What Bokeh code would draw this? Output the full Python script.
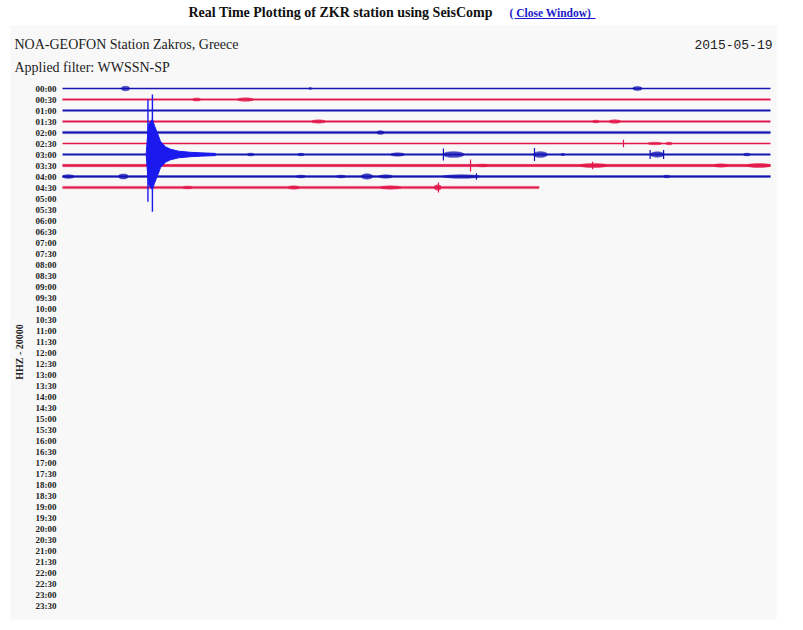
from bokeh.plotting import figure
from bokeh.models import Range1d, ColumnDataSource
from bokeh.core.properties import value
from bokeh.embed import file_html
from bokeh.resources import INLINE

# ---------------- data ----------------
row_labels = [f"{h:02d}:{m:02d}" for h in range(24) for m in (0, 30)]
trace_rows = [0, 1, 2, 3, 4, 5, 6, 7, 8, 9]            # 30-minute lines with data
trace_end_min = [30, 30, 30, 30, 30, 30, 30, 30, 30, 20.2]

# wave bursts: row, centre minute, duration (min), half amplitude (row units)
burst_row = [0, 0, 0, 1, 1, 3, 3, 3, 4, 5, 5,
             6, 6, 6, 6, 6, 6, 6, 6,
             7, 7, 7, 7,
             8, 8, 8, 8, 8, 8, 8, 8,
             9, 9, 9, 9]
burst_min = [2.67, 24.36, 10.5, 5.68, 7.75, 10.85, 22.6, 23.4, 13.47, 25.1, 25.7,
             7.97, 10.1, 14.2, 16.57, 20.25, 21.2, 25.2, 29.0,
             17.8, 22.5, 27.9, 29.5,
             0.25, 2.58, 12.9, 10.1, 11.8, 13.7, 16.9, 25.6,
             5.3, 9.8, 13.9, 15.9]
burst_dur = [0.34, 0.4, 0.12, 0.35, 0.7, 0.6, 0.3, 0.5, 0.3, 0.6, 0.3,
             0.3, 0.3, 0.6, 0.9, 0.6, 0.2, 0.6, 0.3,
             0.5, 1.2, 0.6, 1.0,
             0.5, 0.4, 0.5, 0.4, 0.4, 0.6, 1.6, 0.3,
             0.4, 0.5, 0.9, 0.3]
burst_amp = [0.2, 0.18, 0.1, 0.14, 0.16, 0.15, 0.12, 0.16, 0.17, 0.12, 0.12,
             0.12, 0.11, 0.15, 0.26, 0.26, 0.1, 0.24, 0.12,
             0.12, 0.18, 0.15, 0.18,
             0.17, 0.22, 0.24, 0.12, 0.12, 0.15, 0.16, 0.12,
             0.12, 0.15, 0.15, 0.24]

# single spikes: row, minute, half amplitude (row units)
spike_row = [5, 6, 6, 6, 6, 7, 7, 8, 9]
spike_min = [23.77, 16.14, 20.0, 24.9, 25.47, 17.29, 22.46, 17.54, 15.93]
spike_amp = [0.35, 0.55, 0.6, 0.4, 0.4, 0.55, 0.35, 0.3, 0.45]

# earthquake on the 03:00 line
quake_row = 6
quake_env_min = [3.55, 3.64, 3.73, 3.81, 3.90, 4.03, 4.15, 4.36, 4.58, 4.92, 5.42, 5.85, 6.48]
quake_env_amp = [0.15, 2.7, 3.0, 3.2, 2.6, 1.9, 1.2, 0.7, 0.48, 0.3, 0.2, 0.15, 0.1]
quake_spike_min = [3.62, 3.81]
quake_spike_up = [5.0, 5.45]
quake_spike_down = [4.3, 5.2]

# ---------------- layout helpers (page pixels -> data) ----------------
W, H = 787, 622
X0_PAGE, PX_PER_MIN = 62, 23.6
Y0_PAGE, PX_PER_ROW = 88, 11.0


def mx(page_x):
    return (page_x - X0_PAGE) / PX_PER_MIN


def ry(page_y):
    return (page_y - Y0_PAGE) / PX_PER_ROW


BLUE = "#1414b4"
QBLUE = "#1a1aee"
RED = "#e3174a"
SERIF = value("Liberation Serif")
MONO = value("Liberation Mono")

p = figure(width=W, height=H, output_backend="svg", toolbar_location=None,
           x_range=Range1d(mx(0), mx(W)), y_range=Range1d(ry(H), ry(0)),
           min_border=0, min_border_left=0, min_border_right=0,
           min_border_top=0, min_border_bottom=0)
p.axis.visible = False
p.grid.visible = False
p.outline_line_color = None
p.background_fill_color = "white"
p.border_fill_color = "white"

# grey panel
p.quad(left=[mx(10)], right=[mx(776)], top=[ry(25)], bottom=[ry(619)],
       fill_color="#f8f8f8", line_color=None)

# titles
p.text(x=[mx(188)], y=[ry(12)], text=["Real Time Plotting of ZKR station using SeisComp"],
       text_font=SERIF, text_font_style="bold", text_font_size="14px",
       text_baseline="middle", text_align="left", text_color="#111111")
p.text(x=[mx(509)], y=[ry(12.5)], text=["( Close Window)"],
       text_font=SERIF, text_font_style="bold", text_font_size="11.5px",
       text_baseline="middle", text_align="left", text_color="#1a1acc")
p.segment(x0=[mx(514)], y0=[ry(18)], x1=[mx(595)], y1=[ry(18)],
          line_color="#1a1acc", line_width=1)

p.text(x=[mx(14)], y=[ry(44)], text=["NOA-GEOFON Station Zakros, Greece"],
       text_font=SERIF, text_font_size="14px", text_baseline="middle", text_color="#222222")
p.text(x=[mx(14)], y=[ry(67)], text=["Applied filter: WWSSN-SP"],
       text_font=SERIF, text_font_size="14px", text_baseline="middle", text_color="#222222")
p.text(x=[mx(772)], y=[ry(44)], text=["2015-05-19"],
       text_font=MONO, text_font_size="13px", text_baseline="middle",
       text_align="right", text_color="#222222")

# row labels
p.text(x=[mx(56)] * len(row_labels), y=list(range(len(row_labels))), text=row_labels,
       text_font=SERIF, text_font_style="bold", text_font_size="9px",
       text_baseline="middle", text_align="right", text_color="#222222")

# channel label
p.text(x=[mx(19)], y=[ry(349)], text=["HHZ  -  20000"], angle=1.5708,
       text_font=SERIF, text_font_style="bold", text_font_size="10px",
       text_baseline="middle", text_align="center", text_color="#222222")

# traces
colors = [BLUE if r % 2 == 0 else RED for r in trace_rows]
widths = [1.3, 1.3, 2.2, 1.8, 2.0, 1.7, 2.0, 2.4, 2.0, 2.0]
halo = [0, 3.0, 0, 0, 3.5, 0, 0, 3.5, 3.0, 3.5]
for r, e, c, w, h in zip(trace_rows, trace_end_min, colors, widths, halo):
    if h > 0:
        p.line([0, e], [r, r], line_color=c, line_width=h, line_alpha=0.25)
    p.line([0, e], [r, r], line_color=c, line_width=w)

# bursts
bsrc = ColumnDataSource(dict(
    x=burst_min, y=burst_row, w=burst_dur, h=[2 * a for a in burst_amp],
    c=[BLUE if r % 2 == 0 else RED for r in burst_row]))
p.ellipse(x="x", y="y", width="w", height="h", source=bsrc,
          fill_color="c", fill_alpha=0.75, line_color="c", line_alpha=0.6, line_width=0.8)

# spikes
ssrc = ColumnDataSource(dict(
    x=spike_min, y0=[r - a for r, a in zip(spike_row, spike_amp)],
    y1=[r + a for r, a in zip(spike_row, spike_amp)],
    c=[BLUE if r % 2 == 0 else RED for r in spike_row]))
p.segment(x0="x", y0="y0", x1="x", y1="y1", source=ssrc, line_color="c", line_width=1.2)

# earthquake
qx = quake_env_min + quake_env_min[::-1]
qy = [quake_row - a for a in quake_env_amp] + [quake_row + a for a in quake_env_amp[::-1]]
p.patch(qx, qy, fill_color=QBLUE, line_color=QBLUE, line_width=1)
p.segment(x0=quake_spike_min, x1=quake_spike_min,
          y0=[quake_row - u for u in quake_spike_up],
          y1=[quake_row + d for d in quake_spike_down],
          line_color=QBLUE, line_width=1.4)

open("out.html", "w").write(file_html(p, INLINE))
